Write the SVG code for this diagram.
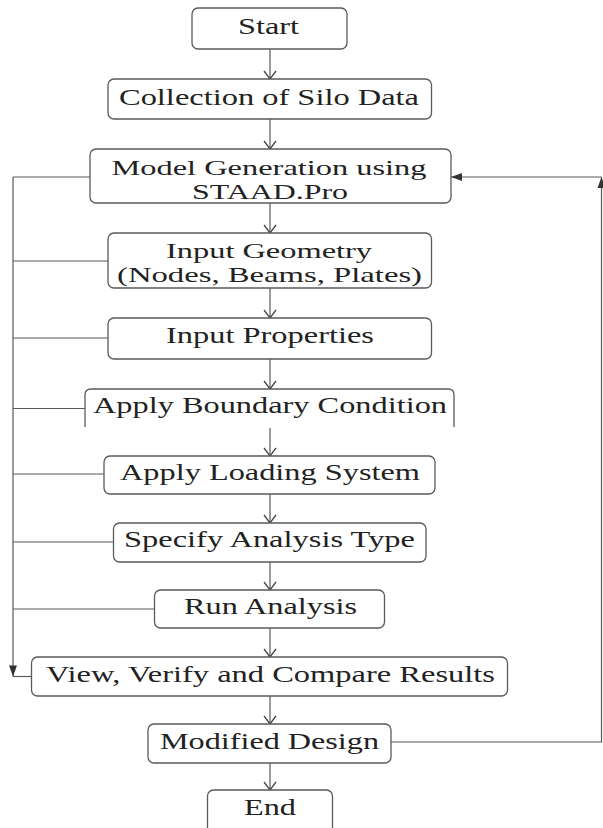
<svg xmlns="http://www.w3.org/2000/svg" width="603" height="828" viewBox="0 0 603 828">
  <style>
    .box { fill: #ffffff; stroke: #5a5a5a; stroke-width: 1.3; }
    .ln { fill: none; stroke: #5a5a5a; stroke-width: 1.2; }
    .lbl { font-family: "Liberation Serif", "Times New Roman", serif; font-size: 22.5px; fill: #222222; text-anchor: middle; }
    .two { font-size: 21px; }
  </style>
  <defs>
    <marker id="chev" markerUnits="userSpaceOnUse" markerWidth="12" markerHeight="16" viewBox="-10 -8 12 16" refX="0" refY="0" orient="auto">
      <path d="M-8,-6 L0,0 L-8,6" fill="none" stroke="#444444" stroke-width="1.3"/>
    </marker>
    <marker id="tri" markerUnits="userSpaceOnUse" markerWidth="14" markerHeight="10" viewBox="-12 -5 13 10" refX="0" refY="0" orient="auto">
      <path d="M-11,-4 L0,0 L-11,4 Z" fill="#333333"/>
    </marker>
  </defs>
  <rect width="603" height="828" fill="#ffffff"/>

  <!-- connectors -->
  <g id="connectors">
    <!-- main downward flow -->
    <line class="ln" x1="270" y1="49" x2="270" y2="79" marker-end="url(#chev)"/>
    <line class="ln" x1="270" y1="119" x2="270" y2="149" marker-end="url(#chev)"/>
    <line class="ln" x1="270" y1="203" x2="270" y2="233" marker-end="url(#chev)"/>
    <line class="ln" x1="270" y1="288" x2="270" y2="318" marker-end="url(#chev)"/>
    <line class="ln" x1="270" y1="359" x2="270" y2="389" marker-end="url(#chev)"/>
    <line class="ln" x1="270" y1="428" x2="270" y2="456" marker-end="url(#chev)"/>
    <line class="ln" x1="270" y1="494" x2="270" y2="523" marker-end="url(#chev)"/>
    <line class="ln" x1="270" y1="562" x2="270" y2="590" marker-end="url(#chev)"/>
    <line class="ln" x1="270" y1="628" x2="270" y2="657" marker-end="url(#chev)"/>
    <line class="ln" x1="270" y1="696" x2="270" y2="724" marker-end="url(#chev)"/>
    <line class="ln" x1="270" y1="763" x2="270" y2="790" marker-end="url(#chev)"/>

    <!-- left collector bus -->
    <line class="ln" x1="13" y1="177" x2="13" y2="676.5" marker-end="url(#tri)"/>
    <line class="ln" x1="13" y1="177" x2="90" y2="177"/>
    <line class="ln" x1="13" y1="261" x2="108" y2="261"/>
    <line class="ln" x1="13" y1="338" x2="108" y2="338"/>
    <line class="ln" x1="13" y1="408.5" x2="85" y2="408.5"/>
    <line class="ln" x1="13" y1="474" x2="104" y2="474"/>
    <line class="ln" x1="13" y1="542" x2="113.5" y2="542"/>
    <line class="ln" x1="13" y1="609" x2="154.5" y2="609"/>
    <line class="ln" x1="13" y1="676.5" x2="31.5" y2="676.5"/>

    <!-- feedback loop from Modified Design -->
    <path class="ln" d="M391,742 H601.5 V177" marker-end="url(#tri)"/>
    <line class="ln" x1="601.5" y1="177" x2="451" y2="177" marker-end="url(#tri)"/>
  </g>

  <g id="start">
    <rect class="box" x="192" y="8" width="155" height="41" rx="6"/>
    <text class="lbl" x="268.5" y="34" textLength="61" lengthAdjust="spacingAndGlyphs">Start</text>
  </g>
  <g id="collection">
    <rect class="box" x="108" y="79" width="323.5" height="40" rx="6"/>
    <text class="lbl" x="269" y="105" textLength="300" lengthAdjust="spacingAndGlyphs">Collection of Silo Data</text>
  </g>
  <g id="model">
    <rect class="box" x="90" y="149" width="361" height="54" rx="6"/>
    <text class="lbl two" x="269" y="175" textLength="315" lengthAdjust="spacingAndGlyphs">Model Generation using</text>
    <text class="lbl two" x="270" y="199" textLength="156" lengthAdjust="spacingAndGlyphs">STAAD.Pro</text>
  </g>
  <g id="geometry">
    <rect class="box" x="108" y="233" width="323.5" height="55" rx="6"/>
    <text class="lbl two" x="269" y="258" textLength="206" lengthAdjust="spacingAndGlyphs">Input Geometry</text>
    <text class="lbl two" x="269.5" y="282" textLength="305" lengthAdjust="spacingAndGlyphs">(Nodes, Beams, Plates)</text>
  </g>
  <g id="properties">
    <rect class="box" x="108" y="318" width="323.5" height="41" rx="6"/>
    <text class="lbl" x="270" y="343" textLength="208" lengthAdjust="spacingAndGlyphs">Input Properties</text>
  </g>
  <g id="boundary">
    <path class="box" d="M85,427 V395 Q85,389 91,389 H448 Q454,389 454,395 V427"/>
    <text class="lbl" x="270" y="413" textLength="354" lengthAdjust="spacingAndGlyphs">Apply Boundary Condition</text>
  </g>
  <g id="loading">
    <rect class="box" x="104" y="456" width="331" height="38" rx="6"/>
    <text class="lbl" x="270" y="480" textLength="300" lengthAdjust="spacingAndGlyphs">Apply Loading System</text>
  </g>
  <g id="analysis-type">
    <rect class="box" x="113.5" y="523" width="312.5" height="39" rx="6"/>
    <text class="lbl" x="269.5" y="547" textLength="291" lengthAdjust="spacingAndGlyphs">Specify Analysis Type</text>
  </g>
  <g id="run">
    <rect class="box" x="154.5" y="590" width="230" height="38" rx="6"/>
    <text class="lbl" x="270.5" y="614" textLength="173" lengthAdjust="spacingAndGlyphs">Run Analysis</text>
  </g>
  <g id="results">
    <rect class="box" x="31.5" y="657" width="476" height="39" rx="6"/>
    <text class="lbl" x="270.5" y="682" textLength="449" lengthAdjust="spacingAndGlyphs">View, Verify and Compare Results</text>
  </g>
  <g id="modified">
    <rect class="box" x="148" y="724" width="243" height="39" rx="6"/>
    <text class="lbl" x="269.5" y="749" textLength="219" lengthAdjust="spacingAndGlyphs">Modified Design</text>
  </g>
  <g id="end">
    <rect class="box" x="207.5" y="790" width="125" height="46" rx="6"/>
    <text class="lbl" x="270" y="815" textLength="52" lengthAdjust="spacingAndGlyphs">End</text>
  </g>
</svg>
